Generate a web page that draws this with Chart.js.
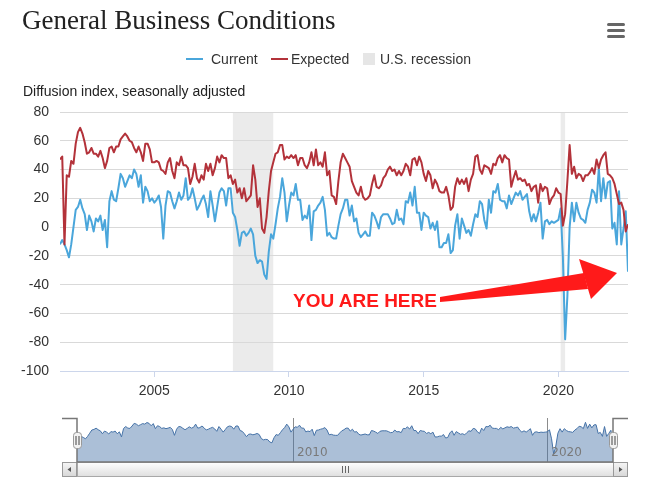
<!DOCTYPE html>
<html>
<head>
<meta charset="utf-8">
<script src="https://cdn.jsdelivr.net/npm/chart.js@4/dist/chart.umd.min.js"></script>
<style>
  html, body { margin: 0; padding: 0; background: #fff; }
  #wrap { position: relative; width: 650px; height: 496px; overflow: hidden; font-family: 'Liberation Sans', Arial, sans-serif; color: #333; }
  .abs { position: absolute; white-space: nowrap; }
  #title { left: 22px; top: 5px; font: 27px/30px 'Liberation Serif', 'Times New Roman', serif; color: #222; }
  .leg { top: 51px; font-size: 14px; line-height: 16px; color: #333; }
  .legline { top: 58px; width: 17px; height: 2px; }
  #axisTitle { left: 23px; top: 83px; font-size: 14px; line-height: 16px; color: #222; }
  .burger { left: 607px; width: 18px; height: 3px; background: #666; border-radius: 1.5px; }
  #here { left: 293px; top: 291px; font: bold 19px/20px 'Liberation Sans', Arial, sans-serif; color: #ff1a1a; }
</style>
</head>
<body>
<div id="wrap">
  <canvas id="main" class="abs" width="650" height="496" style="left:0;top:0;"></canvas>
  <canvas id="nav" class="abs" width="650" height="96" style="left:0;top:400px;"></canvas>

  <div id="title" class="abs">General Business Conditions</div>

  <div class="abs burger" style="top:23px;"></div>
  <div class="abs burger" style="top:29px;"></div>
  <div class="abs burger" style="top:35px;"></div>

  <div class="abs legline" style="left:186px;background:#4aa6db;"></div>
  <div class="abs leg" style="left:211px;">Current</div>
  <div class="abs legline" style="left:271px;background:#b3323a;"></div>
  <div class="abs leg" style="left:291px;">Expected</div>
  <div class="abs" style="left:363px;top:53px;width:12px;height:12px;background:#e6e6e6;"></div>
  <div class="abs leg" style="left:380px;">U.S. recession</div>

  <div id="axisTitle" class="abs">Diffusion index, seasonally adjusted</div>

  <svg class="abs" style="left:0;top:0;" width="650" height="496">
    <polygon points="440,297 584,273 588,289 440,302" fill="#ff1a1a"/>
    <polygon points="579,259 617,273 591,299" fill="#ff1a1a"/>
  </svg>
  <div id="here" class="abs">YOU ARE HERE</div>
</div>

<script>
// ---------------- DATA ----------------
const startYear = 2001;
const startMonth = 7;   // first observation: July 2001 (monthly through Aug 2022)

const current = [
  /*2001*/ -12, -9, -12, -16, -21, -12,
  /*2002*/ 0, 12, 14, 19, 13, 9, -2, 8, 4, -3, 6, 4,
  /*2003*/ 8, -2, 5, -14, 18, 25, 19, 18, 27, 37, 34, 28,
  /*2004*/ 32, 36, 34, 40, 37, 28, 36, 17, 28, 25, 18, 20,
  /*2005*/ 17, 19, 22, 14, -8, 15, 25, 24, 18, 13, 18, 24,
  /*2006*/ 19, 22, 34, 19, 21, 27, 20, 12, 15, 19, 22, 16,
  /*2007*/ 7, 25, 15, 4, 14, 24, 27, 25, 15, 27, 27, 10,
  /*2008*/ 7, -2, -13, -4, -3, -6, -4, -1, -5, -20, -25, -23,
  /*2009*/ -24, -33, -36, -17, -5, -8, 2, 13, 21, 34, 24, 4,
  /*2010*/ 15, 24, 22, 30, 19, 19, 5, 8, 6, 15, -9, 11,
  /*2011*/ 12, 15, 17, 21, 12, -6, -4, -7, -8, -8, 1, 9,
  /*2012*/ 13, 19, 19, 8, 15, 4, 6, -4, -7, -5, -3, -6,
  /*2013*/ -6, 10, 8, 4, -1, 7, 9, 9, 9, 6, 2, 3,
  /*2014*/ 12, 5, 6, 2, 18, 17, 24, 15, 28, 10, 10, -2,
  /*2015*/ 10, 8, 7, -1, 3, -2, 4, -14, -14, -11, -11, -5,
  /*2016*/ -18, -16, 1, 9, -8, 6, 1, -4, -2, -6, 2, 9,
  /*2017*/ 7, 18, 16, 5, -1, 19, 10, 25, 24, 30, 19, 18,
  /*2018*/ 18, 13, 22, 16, 20, 24, 22, 25, 19, 21, 23, 11,
  /*2019*/ 4, 9, 4, 10, 17, -8, 4, 5, 2, 4, 3, 4,
  /*2020*/ 5, 13, -21, -78, -48, 0, 17, 4, 17, 10, 6, 5,
  /*2021*/ 3, 12, 17, 26, 24, 17, 41, 18, 34, 20, 31, 32,
  /*2022*/ -1, 3, -12, 25, -12, -1, 11, -31
];

const expected = [
  /*2001*/ 47, 49, -12, 36, 35, 46,
  /*2002*/ 44, 58, 66, 69, 65, 59, 51, 52, 55, 51, 51, 49,
  /*2003*/ 53, 48, 41, 46, 55, 56, 52, 56, 56, 61, 63, 65,
  /*2004*/ 63, 60, 59, 55, 52, 56, 52, 46, 58, 58, 54, 45,
  /*2005*/ 45, 46, 45, 40, 39, 37, 45, 48, 39, 34, 45, 43,
  /*2006*/ 49, 43, 43, 41, 30, 35, 44, 34, 31, 36, 33, 44,
  /*2007*/ 39, 44, 36, 41, 49, 45, 50, 48, 48, 34, 36, 30,
  /*2008*/ 33, 24, 27, 20, 27, 18, 20, 22, 43, 33, 14, 20,
  /*2009*/ -1, -4, 7, 25, 39, 45, 51, 52, 57, 57, 47, 49,
  /*2010*/ 48, 50, 48, 50, 43, 48, 48, 43, 41, 45, 52, 43,
  /*2011*/ 54, 43, 45, 42, 52, 36, 39, 22, 21, 16, 32, 45,
  /*2012*/ 51, 48, 45, 42, 32, 28, 24, 22, 28, 21, 19, 20,
  /*2013*/ 22, 30, 36, 28, 27, 29, 34, 36, 40, 42, 39, 40,
  /*2014*/ 36, 39, 36, 39, 44, 42, 36, 47, 48, 43, 49, 45,
  /*2015*/ 37, 32, 39, 36, 27, 33, 30, 25, 24, 24, 28, 22,
  /*2016*/ 12, 14, 28, 34, 30, 33, 30, 34, 25, 33, 37, 49,
  /*2017*/ 50, 40, 37, 43, 42, 41, 37, 44, 43, 48, 50, 45,
  /*2018*/ 50, 48, 47, 28, 34, 39, 33, 34, 32, 33, 29, 30,
  /*2019*/ 25, 28, 29, 17, 30, 25, 28, 27, 16, 20, 22, 27,
  /*2020*/ 24, 23, 1, 9, 32, 57, 37, 42, 34, 37, 36, 32,
  /*2021*/ 36, 36, 38, 41, 37, 47, 41, 47, 50, 52, 37, 36,
  /*2022*/ 34, 30, 23, 16, 17, 12, -3, 2
];

const recessions = [['2007-12', '2009-06'], ['2020-02', '2020-04']];
const xTickValues = [2005, 2010, 2015, 2020];
const navTickValues = [2010, 2020];
const yTickMin = -100, yTickMax = 80, yTickStep = 20;

// ---------------- HELPERS ----------------
const months = current.map((_, i) => {
  const m = startMonth - 1 + i;
  return (startYear + Math.floor(m / 12)) + '-' + String(m % 12 + 1).padStart(2, '0');
});
const toYear = s => { const [y, m] = s.split('-').map(Number); return y + (m - 1) / 12; };
const toPoints = arr => arr.map((v, i) => ({ x: toYear(months[i]), y: v }));
const xMin = toYear(months[0]);
const xMax = toYear(months[months.length - 1]);

Chart.defaults.font.family = "'Liberation Sans', Arial, sans-serif";
Chart.defaults.color = '#333';

// ---------------- MAIN CHART ----------------
const recessionPlugin = {
  id: 'recessionBands',
  beforeDraw(chart) {
    const { ctx, chartArea: a, scales: { x } } = chart;
    ctx.save();
    ctx.fillStyle = '#ebebeb';
    recessions.forEach(([from, to]) => {
      const x0 = x.getPixelForValue(toYear(from));
      const x1 = x.getPixelForValue(toYear(to));
      ctx.fillRect(x0, a.top, x1 - x0, a.bottom - a.top);
    });
    ctx.restore();
  }
};

new Chart(document.getElementById('main'), {
  type: 'line',
  data: {
    datasets: [
      { label: 'Expected', data: toPoints(expected), borderColor: '#b3323a', borderWidth: 2,
        pointRadius: 0, tension: 0, borderJoinStyle: 'round', order: 0 },
      { label: 'Current', data: toPoints(current), borderColor: '#4aa6db', borderWidth: 2,
        pointRadius: 0, tension: 0, borderJoinStyle: 'round', order: 1 }
    ]
  },
  options: {
    responsive: false,
    devicePixelRatio: 1,
    animation: false,
    layout: { padding: { left: 0, right: 22, top: 112, bottom: 0 } },
    plugins: { legend: { display: false }, tooltip: { enabled: false }, title: { display: false } },
    scales: {
      x: {
        type: 'linear', min: xMin, max: xMax,
        afterFit: s => { s.height = 125; },
        afterBuildTicks: s => { s.ticks = xTickValues.map(v => ({ value: v })); },
        ticks: { callback: v => String(v), font: { size: 14 }, color: '#333', padding: 6, maxRotation: 0, autoSkip: false },
        grid: { drawOnChartArea: false, drawTicks: true, tickLength: 6, color: '#ccd6eb' },
        border: { color: '#ccd6eb', width: 1 }
      },
      y: {
        min: yTickMin, max: yTickMax,
        afterFit: s => { s.width = 60; },
        ticks: { stepSize: yTickStep, font: { size: 14 }, color: '#333', padding: 11 },
        grid: { color: '#d9d9d9', drawTicks: false },
        border: { display: false }
      }
    }
  },
  plugins: [recessionPlugin]
});

// ---------------- NAVIGATOR ----------------
const navPlugin = {
  id: 'navDecor',
  beforeDatasetsDraw(chart) {
    const { ctx, chartArea: a, scales: { x } } = chart;
    ctx.save();
    ctx.strokeStyle = '#8c8c8c';
    ctx.lineWidth = 1;
    navTickValues.forEach(v => {
      const px = Math.round(x.getPixelForValue(v)) + 0.5;
      ctx.beginPath(); ctx.moveTo(px, a.top); ctx.lineTo(px, a.bottom); ctx.stroke();
    });
    ctx.restore();
  },
  afterDatasetsDraw(chart) {
    const { ctx, chartArea: a, scales: { x } } = chart;
    ctx.save();
    // axis labels inside navigator
    ctx.fillStyle = '#7a7a7a';
    ctx.font = "12px 'DejaVu Sans', sans-serif";
    ctx.textBaseline = 'middle';
    navTickValues.forEach(v => {
      const px = x.getPixelForValue(v);
      ctx.fillText(String(v), px + 4, a.bottom - 9);
    });
    const L = 62, R = 628, sb = a.bottom, sh = 15;
    // scrollbar track
    ctx.fillStyle = '#eeeeee';
    ctx.fillRect(L, sb, R - L, sh);
    // thumb
    let g = ctx.createLinearGradient(0, sb, 0, sb + sh);
    g.addColorStop(0, '#ffffff'); g.addColorStop(1, '#dedede');
    ctx.fillStyle = g;
    ctx.fillRect(a.left, sb, a.right - a.left, sh);
    ctx.strokeStyle = '#a8a8a8'; ctx.lineWidth = 1;
    ctx.strokeRect(a.left + 0.5, sb + 0.5, a.right - a.left, sh - 1);
    // grip
    const cx = Math.round((a.left + a.right) / 2);
    ctx.strokeStyle = '#666';
    [-3, 0, 3].forEach(d => { ctx.beginPath(); ctx.moveTo(cx + d + 0.5, sb + 4); ctx.lineTo(cx + d + 0.5, sb + 11); ctx.stroke(); });
    // buttons
    [[L, -1], [a.right, 1]].forEach(([bx, dir]) => {
      const bw = (dir < 0 ? a.left - L : R - a.right);
      let gb = ctx.createLinearGradient(0, sb, 0, sb + sh);
      gb.addColorStop(0, '#f6f6f6'); gb.addColorStop(1, '#d6d6d6');
      ctx.fillStyle = gb;
      ctx.fillRect(bx, sb, bw, sh);
      ctx.strokeStyle = '#999';
      ctx.strokeRect(bx + 0.5, sb + 0.5, bw - 1, sh - 1);
      const mx = bx + bw / 2, my = sb + sh / 2;
      ctx.fillStyle = '#555';
      ctx.beginPath();
      ctx.moveTo(mx + dir * 2, my);
      ctx.lineTo(mx - dir * 1.5, my - 2.5);
      ctx.lineTo(mx - dir * 1.5, my + 2.5);
      ctx.closePath(); ctx.fill();
    });
    // outline
    ctx.strokeStyle = '#777'; ctx.lineWidth = 1.5;
    ctx.beginPath();
    ctx.moveTo(L, a.top + 0.5); ctx.lineTo(a.left, a.top + 0.5);
    ctx.lineTo(a.left, a.bottom); ctx.lineTo(a.right, a.bottom);
    ctx.lineTo(a.right, a.top + 0.5); ctx.lineTo(R, a.top + 0.5);
    ctx.stroke();
    // handles
    const hy = (a.top + a.bottom) / 2;
    [a.left, a.right].forEach(hx => {
      ctx.fillStyle = '#f2f2f2'; ctx.strokeStyle = '#999'; ctx.lineWidth = 1;
      ctx.beginPath();
      if (ctx.roundRect) ctx.roundRect(hx - 4 + 0.5, hy - 8 + 0.5, 8, 16, 3); else ctx.rect(hx - 4 + 0.5, hy - 8 + 0.5, 8, 16);
      ctx.fill(); ctx.stroke();
      ctx.strokeStyle = '#444';
      [-1.5, 1.5].forEach(d => { ctx.beginPath(); ctx.moveTo(hx + d + 0.5, hy - 4); ctx.lineTo(hx + d + 0.5, hy + 5); ctx.stroke(); });
    });
    ctx.restore();
  }
};

new Chart(document.getElementById('nav'), {
  type: 'line',
  data: {
    datasets: [
      { label: 'Current', data: toPoints(current), borderColor: '#4572a7', borderWidth: 1,
        backgroundColor: 'rgba(69,114,167,0.45)', fill: 'start', pointRadius: 0, tension: 0 }
    ]
  },
  options: {
    responsive: false,
    devicePixelRatio: 1,
    animation: false,
    layout: { padding: { left: 77, right: 37, top: 18, bottom: 34 } },
    plugins: { legend: { display: false }, tooltip: { enabled: false } },
    scales: {
      x: { type: 'linear', display: false, min: xMin, max: xMax },
      y: { display: false, min: -108, max: 57 }
    }
  },
  plugins: [navPlugin]
});
</script>
</body>
</html>
